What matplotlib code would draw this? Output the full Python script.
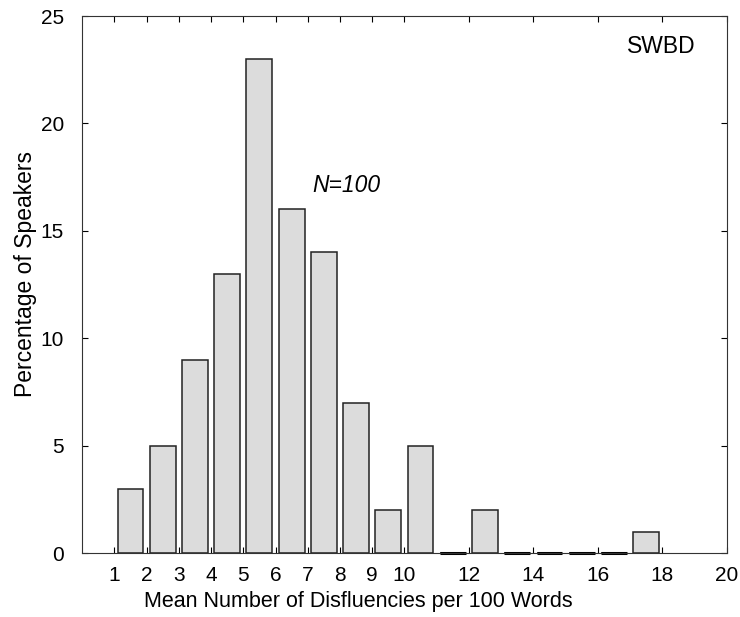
import matplotlib
matplotlib.use("Agg")
import matplotlib.pyplot as plt

plt.rcParams['font.family'] = ['Liberation Sans', 'DejaVu Sans']

bins = [1, 2, 3, 4, 5, 6, 7, 8, 9, 10, 11, 12, 13, 14, 15, 16, 17]
percent = [3, 5, 9, 13, 23, 16, 14, 7, 2, 5, 0, 2, 0, 0, 0, 0, 1]
xticks = [1, 2, 3, 4, 5, 6, 7, 8, 9, 10, 12, 14, 16, 18, 20]
yticks = [0, 5, 10, 15, 20, 25]

fig = plt.figure(figsize=(7.4, 6.17), dpi=100)
ax = fig.add_axes([0.111, 0.1037, 0.871, 0.8703])

centers = [b + 0.5 for b in bins]
ax.bar(centers, percent, width=0.8, color='#dcdcdc', edgecolor='#222222', linewidth=1.1)
zero_x = [c for c, p in zip(centers, percent) if p == 0]
for c in zero_x:
    ax.plot([c - 0.4, c + 0.4], [0, 0], color='black', linewidth=2.2, solid_capstyle='butt', clip_on=False)

ax.set_xlim(0, 20)
ax.set_ylim(0, 25)
ax.set_xticks(xticks)
ax.set_yticks(yticks)
ax.tick_params(direction='in', top=True, right=True, length=4, labelsize=15)
ax.tick_params(axis='x', pad=9)
ax.tick_params(axis='y', pad=13)
for s in ax.spines.values():
    s.set_linewidth(0.8)
    s.set_color('#333333')

ax.set_xlabel('Mean Number of Disfluencies per 100 Words', fontsize=15.5)
ax.set_ylabel('Percentage of Speakers', fontsize=16.5)
ax.xaxis.set_label_coords(0.428, -0.07)
ax.yaxis.set_label_coords(-0.07, 0.52)

ax.text(8.2, 17.1, 'N=100', fontsize=16.5, style='italic', ha='center', va='center')
ax.text(17.98, 23.6, 'SWBD', fontsize=16.5, ha='center', va='center')

fig.savefig('out.png', dpi=100)
